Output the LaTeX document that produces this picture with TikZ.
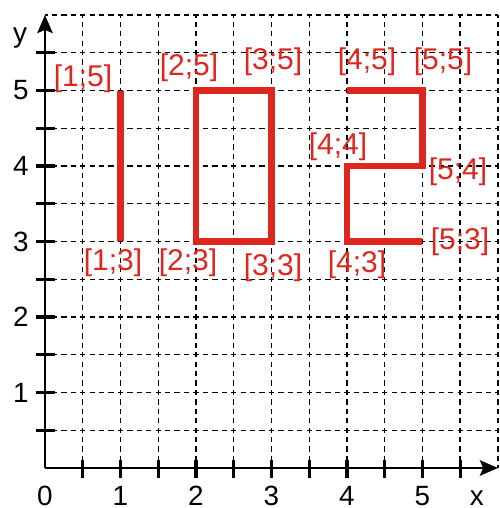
\documentclass[tikz,border=0pt]{standalone}
\usepackage{fontspec}
\setmainfont{Liberation Sans}
\usetikzlibrary{arrows.meta}
\definecolor{figred}{RGB}{220,38,30}
\begin{document}
\begin{tikzpicture}[x=1cm,y=1cm,
  gridline/.style={line width=0.55pt, dash pattern=on 2pt off 1.557pt, dash phase=1pt},
  axisline/.style={line width=1pt, -{Stealth[length=6.8pt,width=5.8pt,inset=1.2pt]}},
  tickmark/.style={line width=1.2pt},
  figpath/.style={draw=figred, line width=2.3pt, line join=miter},
  coordlbl/.style={text=figred, font=\fontsize{11.3}{13}\selectfont, inner sep=0pt},
  numlbl/.style={font=\fontsize{10.5}{12}\selectfont, inner sep=0pt}]
\useasboundingbox (-0.596,-0.530) rectangle (6.026,6.199);
% grid
\foreach \i in {1,...,12} {
  \draw[gridline] (\i/2,0) -- (\i/2,6);
  \draw[gridline] (0,\i/2) -- (6,\i/2);
}
% red shapes
\draw[figpath] (1,3) -- (1,5);
\draw[figpath] (2,3) rectangle (3,5);
\draw[figpath] (4,5) -- (5,5) -- (5,4) -- (4,4) -- (4,3) -- (5,3);
% axes
\coordinate (O) at (0,0);
\coordinate (xend) at (6,0);
\coordinate (yend) at (0,6);
\draw[axisline] (O) -- (xend);
\draw[axisline] (O) -- (yend);
\foreach \i in {1,...,11} {
  \draw[tickmark] (\i/2,0.106) -- (\i/2,-0.132);
  \draw[tickmark] (-0.12,\i/2) -- (0.13,\i/2);
}
% axis numbers
\foreach \n in {0,...,5} {
  \node[numlbl, anchor=base] (xn\n) at (\n,-0.495) {\n};
}
\node[numlbl, anchor=base] (xlbl) at (5.72,-0.495) {x};
\foreach \n in {1,...,5} {
  \node[numlbl] (yn\n) at (-0.32,\n) {\n};
}
\node[numlbl, anchor=base] (ylbl) at (-0.33,5.64) {y};
% coordinate labels
\node[coordlbl] (l15) at (0.503,5.152) {[1;5]};
\node[coordlbl] (l25) at (1.907,5.298) {[2;5]};
\node[coordlbl] (l35) at (3.020,5.377) {[3;5]};
\node[coordlbl] (l45) at (4.265,5.377) {[4;5]};
\node[coordlbl] (l55) at (5.272,5.377) {[5;5]};
\node[coordlbl] (l44) at (3.881,4.252) {[4;4]};
\node[coordlbl] (l54) at (5.470,3.921) {[5;4]};
\node[coordlbl] (l53) at (5.497,2.993) {[5;3]};
\node[coordlbl] (l33) at (3.020,2.649) {[3;3]};
\node[coordlbl] (l43) at (4.132,2.689) {[4;3]};
\node[coordlbl] (l13) at (0.901,2.715) {[1;3]};
\node[coordlbl] (l23) at (1.894,2.715) {[2;3]};
\end{tikzpicture}
\end{document}
